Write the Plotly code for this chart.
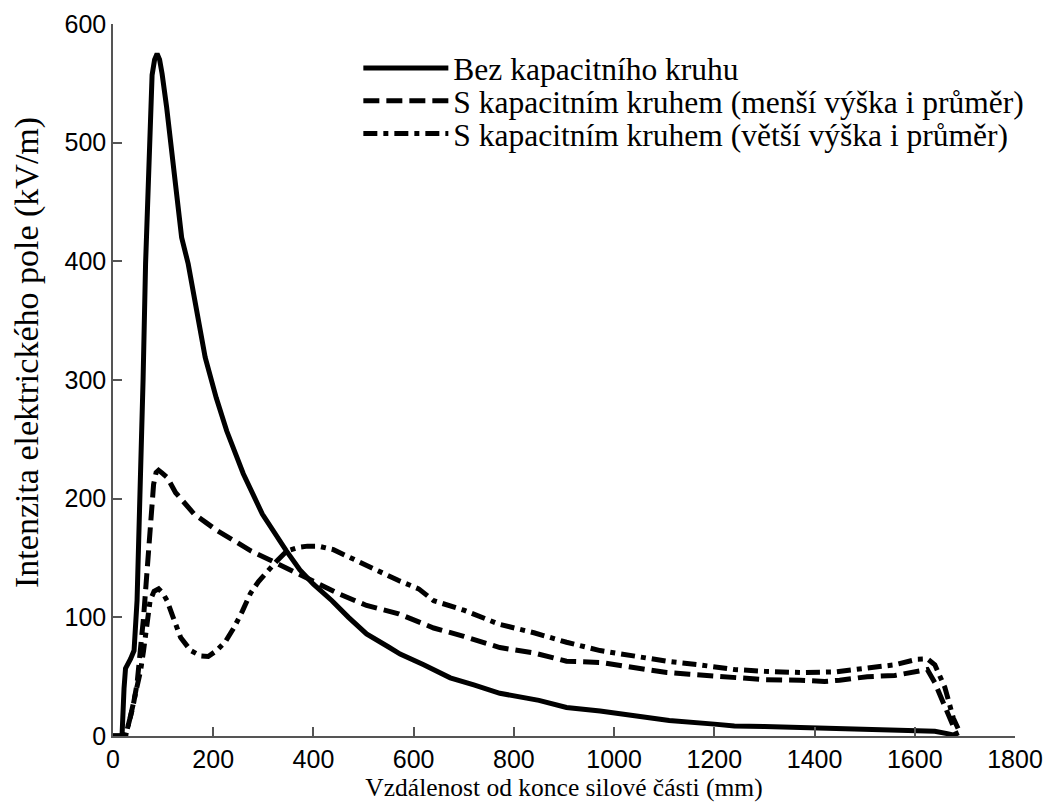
import plotly.graph_objects as go

# Series: Bez kapacitního kruhu
x_bez = [0, 18, 22, 25, 35, 42, 48, 53, 56, 60, 65, 72, 78, 83, 88, 93, 98, 107, 115, 127, 137, 150, 167, 184, 206, 227, 260, 298, 346, 373, 400, 437, 470, 506, 550, 573, 620, 673, 720, 772, 850, 905, 972, 1065, 1110, 1200, 1240, 1300, 1372, 1450, 1505, 1560, 1610, 1640, 1665, 1685]
y_bez = [0, 0, 40, 57, 65, 72, 114, 184, 218, 300, 398, 477, 557, 570, 575, 570, 558, 530, 502, 454, 420, 398, 356, 319, 285, 257, 221, 187, 156, 140, 128, 114, 100, 86, 75, 69, 60, 49, 43, 36, 30, 24, 21, 16, 13, 10, 8.5, 8, 7, 6, 6, 5, 4.5, 4, 2, 0]

# Series: S kapacitním kruhem (menší výška i průměr)
x_mensi = [0, 25, 31, 40, 48, 55, 61, 66, 71, 76, 81, 86, 91, 97, 108, 125, 145, 162, 185, 208, 240, 275, 310, 343, 380, 410, 450, 506, 570, 640, 700, 772, 840, 905, 972, 1065, 1105, 1150, 1240, 1300, 1372, 1420, 1450, 1505, 1560, 1605, 1625, 1640, 1660, 1675, 1685]
y_mensi = [0, 0, 10, 25, 44, 70, 100, 128, 156, 185, 212, 222, 224, 222, 218, 205, 195, 187, 180, 173, 165, 156, 149, 142, 135, 128, 120, 110, 103, 91, 84, 74.5, 70, 63, 62, 56, 53.5, 52, 49, 47.5, 47, 46, 47, 50, 51, 55, 56, 45, 25, 8, 0]

# Series: S kapacitním kruhem (větší výška i průměr)
x_vetsi = [0, 25, 34, 45, 55, 61, 68, 74, 82, 91, 100, 108, 120, 135, 155, 175, 190, 207, 225, 241, 258, 274, 290, 308, 328, 347, 370, 388, 410, 440, 470, 506, 540, 570, 610, 640, 700, 772, 840, 905, 972, 1040, 1105, 1170, 1240, 1300, 1372, 1440, 1505, 1560, 1605, 1625, 1640, 1660, 1677, 1690]
y_vetsi = [0, 0, 15, 35, 55, 72, 95, 114, 122, 124, 120, 114, 100, 83, 72, 67.5, 67, 72, 80, 91, 105, 120, 130, 139, 148, 156, 159, 160, 160, 157, 151, 143, 136, 131, 124, 114, 106, 94, 87, 79, 72, 67.5, 63, 60, 56, 54.5, 53.5, 54, 57, 60, 64.7, 65, 60, 41, 15, 3]

names = ["Bez kapacitního kruhu",
         "S kapacitním kruhem (menší výška i průměr)",
         "S kapacitním kruhem (větší výška i průměr)"]

x_ticks = [0, 200, 400, 600, 800, 1000, 1200, 1400, 1600, 1800]
y_ticks = [0, 100, 200, 300, 400, 500, 600]

x_title = "Vzdálenost od konce silové části (mm)"
y_title = "Intenzita elektrického pole (kV/m)"

serif = "Liberation Serif, Times New Roman, serif"
sans = "Liberation Sans, Arial, sans-serif"

fig = go.Figure()
fig.add_trace(go.Scatter(x=x_bez, y=y_bez, mode="lines", name=names[0], legend="legend",
                         line=dict(color="black", width=5, dash="solid")))
fig.add_trace(go.Scatter(x=x_mensi, y=y_mensi, mode="lines", name=names[1], legend="legend2",
                         line=dict(color="black", width=5, dash="16px,7px")))
fig.add_trace(go.Scatter(x=x_vetsi, y=y_vetsi, mode="lines", name=names[2], legend="legend3",
                         line=dict(color="black", width=5, dash="14px,6px,5px,6px")))

axis_common = dict(showline=True, linecolor="#555", linewidth=1.5,
                   ticks="inside", ticklen=9, tickcolor="#555", tickwidth=1.5,
                   showgrid=False, zeroline=False, automargin=False,
                   tickfont=dict(family=sans, size=25, color="black"))

fig.update_xaxes(range=[0, 1800], tickvals=x_ticks, **axis_common,
                 title=dict(text=x_title,
                            font=dict(family=serif, size=25.5, color="black"),
                            standoff=6))
fig.update_yaxes(range=[0, 600], tickvals=y_ticks, **axis_common)

fig.add_annotation(text=y_title, textangle=-90, showarrow=False,
                   xref="paper", yref="paper", x=-0.0953, y=0.538,
                   xanchor="center", yanchor="middle",
                   font=dict(family=serif, size=34, color="black"))

leg_common = dict(x=0.272, xanchor="left", yanchor="middle",
                  bgcolor="rgba(0,0,0,0)", itemwidth=85,
                  font=dict(family=serif, size=31.5, color="black"))

fig.update_layout(
    width=1055, height=809,
    paper_bgcolor="white", plot_bgcolor="white",
    margin=dict(l=105, r=48, t=16, b=81),
    legend=dict(y=0.938, **leg_common),
    legend2=dict(y=0.892, **leg_common),
    legend3=dict(y=0.846, **leg_common),
    showlegend=True,
)

fig.write_html("out.html")
